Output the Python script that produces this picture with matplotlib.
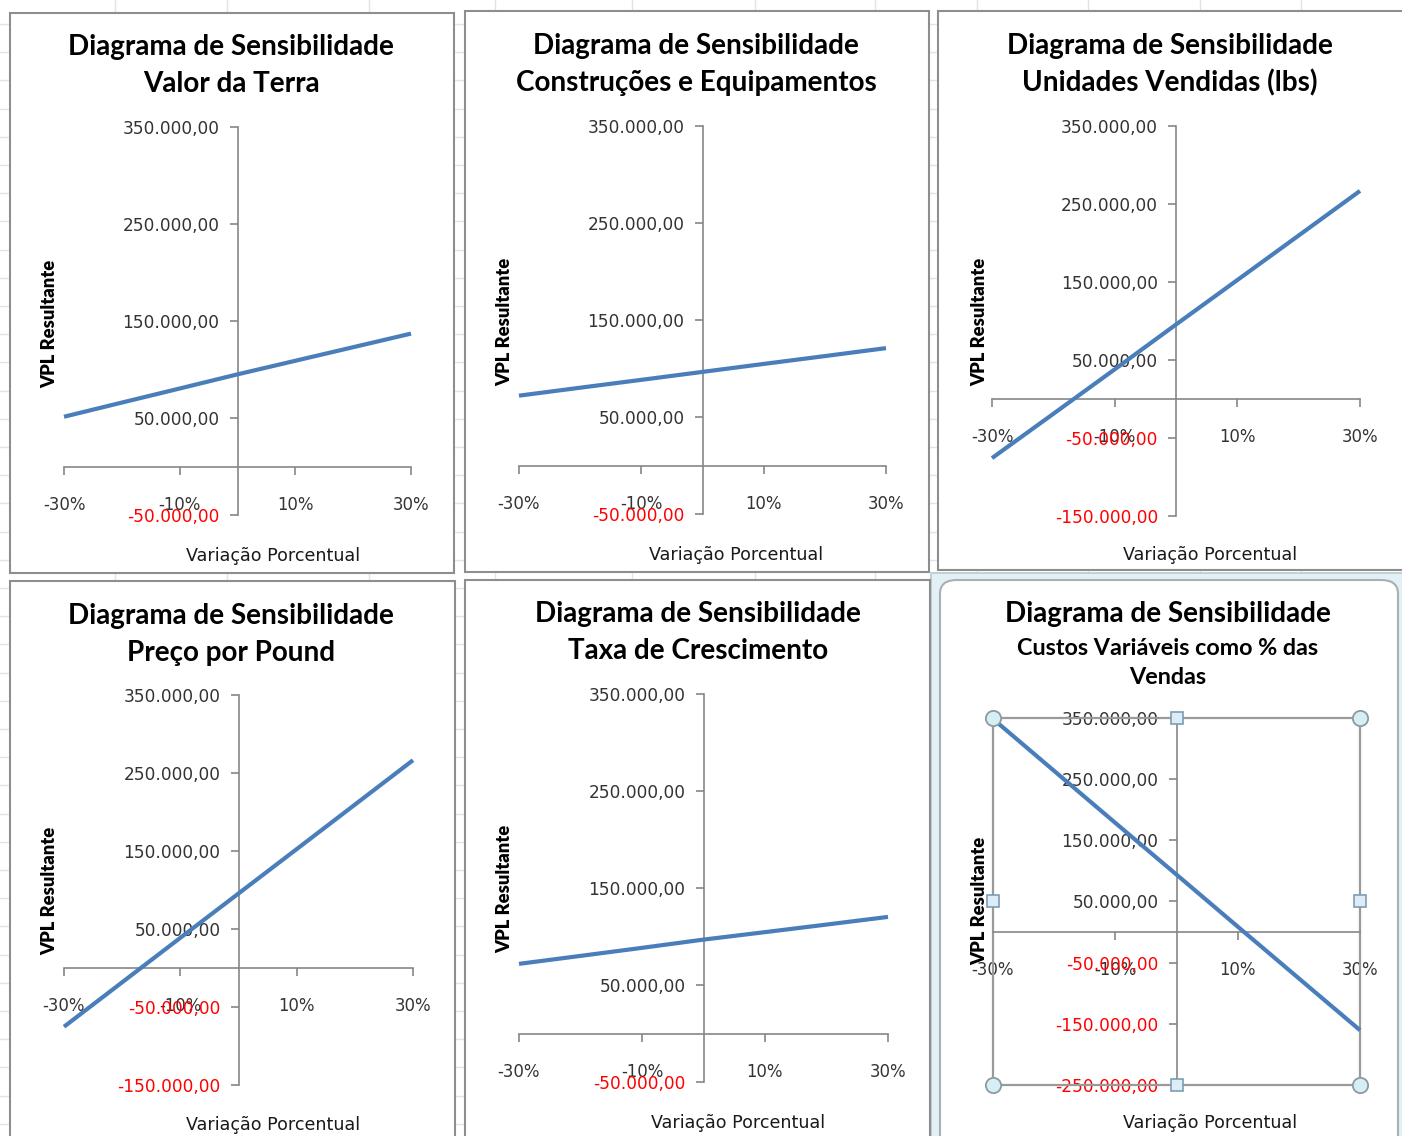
import matplotlib
matplotlib.use('Agg')
import matplotlib.pyplot as plt
from matplotlib.patches import Rectangle, FancyBboxPatch

W, H = 1402, 1136

# ---------------- data ----------------
pct = [-0.30, -0.20, -0.10, 0.00, 0.10, 0.20, 0.30]
x_ticks = [-0.30, -0.10, 0.10, 0.30]
x_tick_labels = ['-30%', '-10%', '10%', '30%']

vpl_valor_terra = [51300, 65900, 80400, 95000, 109000, 123000, 137000]
vpl_construcoes = [72000, 80200, 88300, 96500, 104700, 112800, 121000]
vpl_unidades = [-75800, -19000, 38000, 95500, 152500, 209600, 266800]
vpl_preco = [-75300, -18300, 38700, 95500, 152400, 209400, 266400]
vpl_taxa = [71800, 80000, 88300, 96800, 104500, 112300, 120200]
vpl_custos = [348500, 263500, 178500, 94000, 9000, -75700, -160400]

title_main = 'Diagrama de Sensibilidade'
subtitles = ['Valor da Terra', 'Construções e Equipamentos', 'Unidades Vendidas (lbs)',
             'Preço por Pound', 'Taxa de Crescimento', 'Custos Variáveis como % das\nVendas']
y_mins = [-50000, -50000, -150000, -150000, -50000, -250000]
y_max = 350000
y_step = 100000
x_label = 'Variação Porcentual'
y_label = 'VPL Resultante'

series = [vpl_valor_terra, vpl_construcoes, vpl_unidades, vpl_preco, vpl_taxa, vpl_custos]

# ---------------- layout (pixels) ----------------
layout = [
    dict(panel=(10, 13, 454, 573), axes=(64, 127, 411, 515), tx=231, ty=(47, 84), xl=(273, 556), yl=(50, 324)),
    dict(panel=(465, 11, 929, 572), axes=(519, 126, 886, 514), tx=696, ty=(46, 83), xl=(736, 555), yl=(505, 322)),
    dict(panel=(938, 11, 1412, 570), axes=(992, 126, 1360, 516), tx=1170, ty=(46, 83), xl=(1210, 555), yl=(980, 322)),
    dict(panel=(10, 581, 455, 1150), axes=(64, 695, 413, 1085), tx=231, ty=(616, 653), xl=(273, 1125), yl=(50, 891)),
    dict(panel=(465, 580, 930, 1150), axes=(519, 694, 888, 1082), tx=698, ty=(614, 651), xl=(738, 1123), yl=(505, 889)),
    dict(panel=(940, 580, 1398, 1150), axes=(993, 718, 1360, 1085), tx=1168, ty=(614, 663), xl=(1210, 1123), yl=(980, 901)),
]

fig = plt.figure(figsize=(W / 100, H / 100), dpi=100)
fig.patch.set_facecolor('white')
renderer = fig.canvas.get_renderer()


def fx(x):
    return x / W


def fy(y):
    return 1 - y / H


def fit_text(x, y, s, target, dim='w', **kw):
    t = fig.text(fx(x), fy(y), s, fontsize=12, **kw)
    bb = t.get_window_extent(renderer)
    cur = bb.width if dim == 'w' else bb.height
    t.set_fontsize(12 * target / cur)
    return t


def measure_size(s, target, **kw):
    t = fig.text(0, 0, s, fontsize=12, **kw)
    w = t.get_window_extent(renderer).width
    t.remove()
    return 12 * target / w


def br(v):
    s = f"{abs(v):,.2f}".replace(',', 'X').replace('.', ',').replace('X', '.')
    return ('-' if v < 0 else '') + s


# ---------------- spreadsheet background ----------------
grid_c = '#dfe4ea'
for gx in [115, 227, 369, 495, 632, 755, 875, 977, 1088, 1200, 1301]:
    fig.add_artist(plt.Line2D([fx(gx), fx(gx)], [0, 1], color=grid_c, lw=1, zorder=0))
gy = 24.0
while gy < H:
    fig.add_artist(plt.Line2D([0, 1], [fy(gy), fy(gy)], color=grid_c, lw=1, zorder=0))
    gy += 28.2

# selection frame of the last chart
fig.add_artist(Rectangle((fx(931), fy(1140)), fx(1402 - 931) + 0.01, (1140 - 573) / H,
                         transform=fig.transFigure, facecolor='#e2f1f6', edgecolor='#b9c9cd',
                         lw=1.2, zorder=1))

tick_fs = measure_size('350.000,00', 97, family='DejaVu Sans')
title_fs = measure_size(title_main, 325, family='Lato', weight='bold')
sub6_fs = measure_size('Custos Variáveis como % das', 300, family='Lato', weight='bold')
xl_fs = measure_size(x_label, 172, family='DejaVu Sans')

axis_c = '#868686'
line_c = '#4a7ebb'

for i, (lay, data, sub, ymin) in enumerate(zip(layout, series, subtitles, y_mins)):
    pl, pt, pr, pb = lay['panel']
    if i == 5:
        fig.add_artist(FancyBboxPatch((fx(pl), fy(pb)), fx(pr - pl), (pb - pt) / H,
                                      boxstyle='round,pad=0,rounding_size=0.012',
                                      transform=fig.transFigure, facecolor='white',
                                      edgecolor='#a9b0b3', lw=1.5, zorder=1.5))
    else:
        fig.add_artist(Rectangle((fx(pl), fy(pb)), fx(pr - pl), (pb - pt) / H,
                                 transform=fig.transFigure, facecolor='white',
                                 edgecolor='#8e8e8e', lw=1.5, zorder=1.5))

    l, t, r, b = lay['axes']
    ax = fig.add_axes([fx(l), fy(b), fx(r - l), (b - t) / H])
    ax.set_zorder(3)
    ax.patch.set_alpha(0)
    ax.set_xlim(-0.30, 0.30)
    ax.set_ylim(ymin, y_max)
    for sp in ['top', 'right']:
        ax.spines[sp].set_visible(False)
    ax.spines['left'].set_position(('data', 0))
    ax.spines['bottom'].set_position(('data', 0))
    for sp in ['left', 'bottom']:
        ax.spines[sp].set_color(axis_c)
        ax.spines[sp].set_linewidth(1.2)
    ax.set_xticks(x_ticks)
    ax.set_xticklabels(x_tick_labels, family='DejaVu Sans', fontsize=tick_fs * 0.97, color='#333333')
    yt = list(range(ymin, y_max + 1, y_step))
    ax.set_yticks(yt)
    ax.set_yticklabels([br(v) for v in yt], family='DejaVu Sans', fontsize=tick_fs)
    for lab, v in zip(ax.get_yticklabels(), yt):
        lab.set_color('#ff0000' if v < 0 else '#333333')
    ax.tick_params(axis='both', direction='out', length=6, width=1.2, color=axis_c)
    ax.tick_params(axis='x', pad=15)
    ax.tick_params(axis='y', pad=7)
    ax.plot(pct, data, color=line_c, lw=3.0, solid_capstyle='butt', zorder=3, clip_on=False)

    # titles
    fig.text(fx(lay['tx']), fy(lay['ty'][0]), title_main, family='Lato', weight='bold',
             fontsize=title_fs, ha='center', va='center', color='black', zorder=5)
    if i == 5:
        fig.text(fx(lay['tx']), fy(lay['ty'][1]), sub, family='Lato', weight='bold',
                 fontsize=sub6_fs, ha='center', va='center', color='black', zorder=5,
                 linespacing=1.45)
    else:
        fig.text(fx(lay['tx']), fy(lay['ty'][1]), sub, family='Lato', weight='bold',
                 fontsize=title_fs, ha='center', va='center', color='black', zorder=5)

    fig.text(fx(lay['xl'][0]), fy(lay['xl'][1]), x_label, family='DejaVu Sans',
             fontsize=xl_fs, ha='center', va='center', color='#1a1a1a', zorder=5)
    fit_text(lay['yl'][0], lay['yl'][1], y_label, 128, dim='h', family='Lato',
             weight='heavy', rotation=90, ha='center', va='center', color='black', zorder=5)

    if i == 5:
        ax.add_patch(Rectangle((-0.30, ymin), 0.60, y_max - ymin, fill=False,
                               edgecolor='#9a9a9a', lw=1.6, zorder=2, clip_on=False))
        for (hx, hy) in [(-0.30, y_max), (0.30, y_max), (-0.30, ymin), (0.30, ymin)]:
            ax.plot([hx], [hy], marker='o', ms=11, mfc='#d7eef4', mec='#8b9ba0', mew=1.3,
                    zorder=6, clip_on=False)
        mid_y = (y_max + ymin) / 2
        for (hx, hy) in [(0.0, y_max), (0.0, ymin), (-0.30, mid_y), (0.30, mid_y)]:
            ax.plot([hx], [hy], marker='s', ms=9, mfc='#dcedf7', mec='#7d9db5', mew=1.2,
                    zorder=6, clip_on=False)

fig.savefig('out.png', dpi=100, facecolor='white')
